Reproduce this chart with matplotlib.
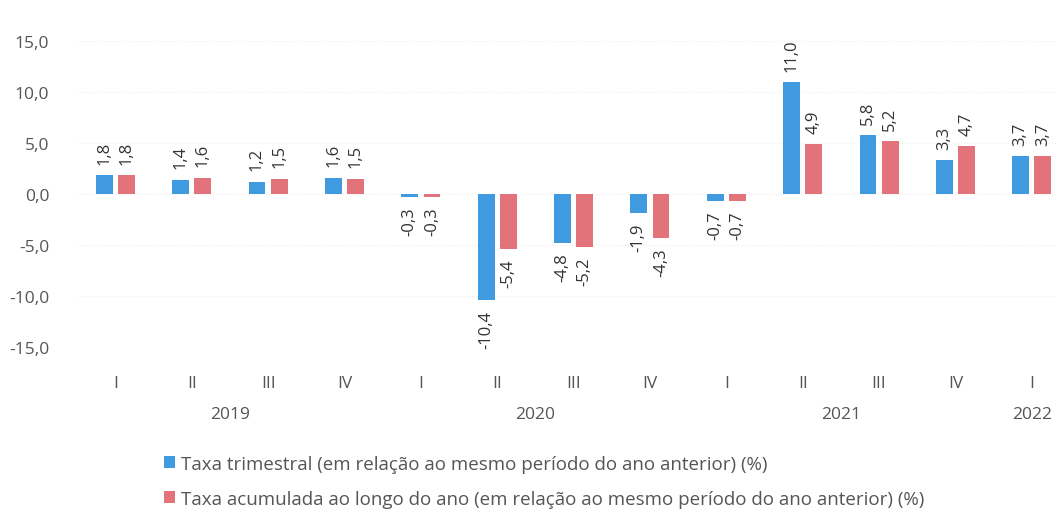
import matplotlib.pyplot as plt
import numpy as np

plt.rcParams['font.family'] = ['Open Sans', 'DejaVu Sans']

# dados (taxas de variação, %)
trimestres = ['I', 'II', 'III', 'IV', 'I', 'II', 'III', 'IV', 'I', 'II', 'III', 'IV', 'I']
anos = ['2019', '2020', '2021', '2022']
taxa_trimestral = [1.8, 1.4, 1.2, 1.6, -0.3, -10.4, -4.8, -1.9, -0.7, 11.0, 5.8, 3.3, 3.7]
taxa_acumulada = [1.8, 1.6, 1.5, 1.5, -0.3, -5.4, -5.2, -4.3, -0.7, 4.9, 5.2, 4.7, 3.7]

azul = '#3f9ae0'
vermelho = '#e2737b'
cinza = '#555555'

fig = plt.figure(figsize=(10.57, 5.10), dpi=100)
ax = fig.add_axes([0.073, 0.318, 0.927, 0.6])

x = np.arange(len(trimestres))
w = 0.22
b1 = ax.bar(x - 0.145, taxa_trimestral, w, color=azul,
            label='Taxa trimestral (em relação ao mesmo período do ano anterior) (%)')
b2 = ax.bar(x + 0.145, taxa_acumulada, w, color=vermelho,
            label='Taxa acumulada ao longo do ano (em relação ao mesmo período do ano anterior) (%)')

# rótulos dos valores, na vertical
def rotulos(barras, valores):
    for b, v in zip(barras, valores):
        txt = f'{v:.1f}'.replace('.', ',')
        if v >= 0:
            ax.annotate(txt, (b.get_x() + b.get_width() / 2, v), xytext=(0, 8),
                        textcoords='offset points', rotation=90, ha='center', va='bottom',
                        fontsize=12, color='#333333', annotation_clip=False)
        else:
            ax.annotate(txt, (b.get_x() + b.get_width() / 2, v), xytext=(0, -7),
                        textcoords='offset points', rotation=90, ha='center', va='top',
                        fontsize=12, color='#333333', annotation_clip=False)

rotulos(b1, taxa_trimestral)
rotulos(b2, taxa_acumulada)

ax.set_ylim(-15, 15)
ax.set_xlim(-0.5, 12.33)
ax.set_yticks(np.arange(-15, 16, 5))
ax.set_yticklabels([f'{t:.1f}'.replace('.', ',') for t in np.arange(-15, 16, 5)])
ax.set_xticks(x)
ax.set_xticklabels(trimestres)
ax.tick_params(axis='both', length=0, labelsize=12.5, colors=cinza)
ax.tick_params(axis='x', pad=20)
ax.tick_params(axis='y', pad=20)
for s in ax.spines.values():
    s.set_visible(False)
ax.yaxis.grid(True, color='#eeeeee', linestyle=':', linewidth=0.8)
ax.set_axisbelow(True)

# anos por baixo dos trimestres
pos_anos = [1.5, 5.5, 9.5, 12]
for p, a in zip(pos_anos, anos):
    ax.text(p, -21.6, a, ha='center', va='center', fontsize=12.5, color=cinza)

fig.legend(handles=[b1, b2], loc='upper left', bbox_to_anchor=(0.155, 0.106), frameon=False,
           fontsize=13.5, handlelength=0.6, handleheight=0.6, handletextpad=0.3,
           labelspacing=0.9, labelcolor=cinza, borderaxespad=0, borderpad=0)

plt.savefig('out.png', dpi=100)
